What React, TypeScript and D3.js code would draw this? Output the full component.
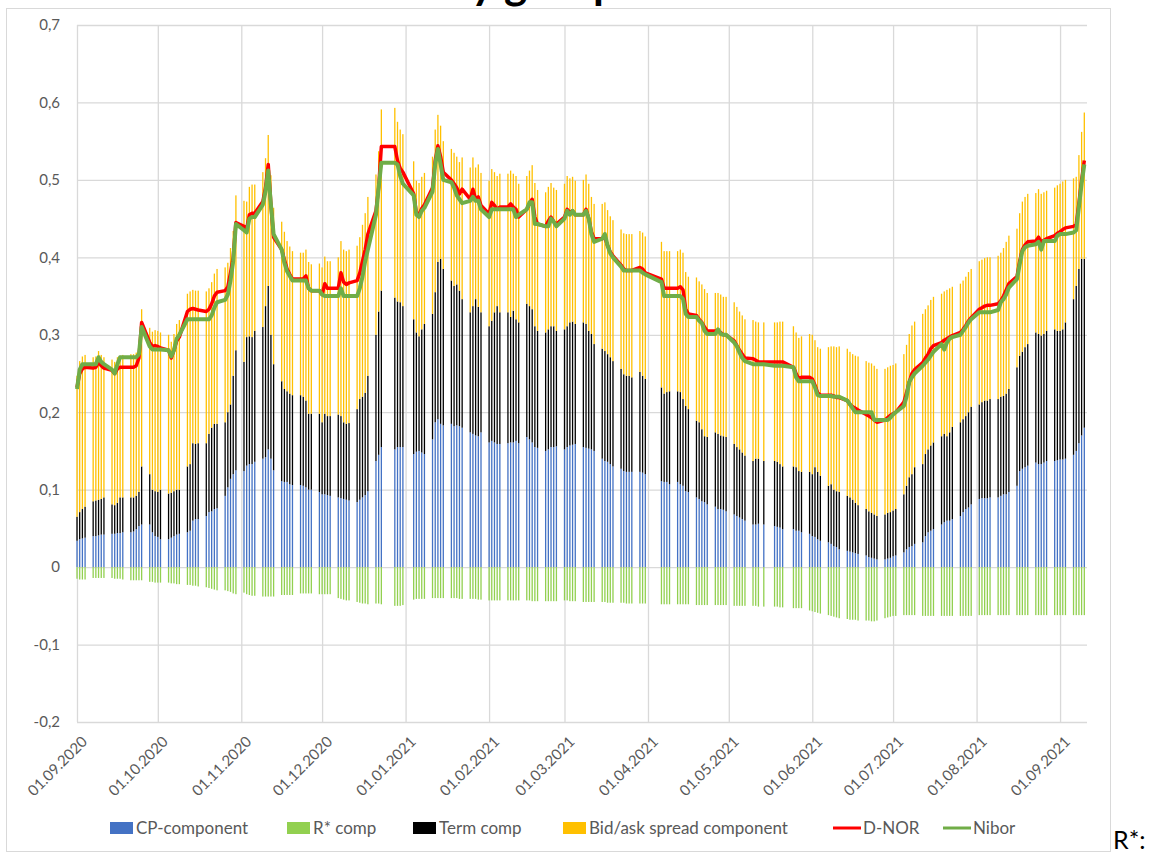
import React, { useEffect, useRef } from 'react';
import * as d3 from 'd3';

// Norwegian bank holidays inside the period (no fixing on these days)
const holidays = ['2020-12-24', '2020-12-25', '2021-01-01', '2021-04-01', '2021-04-02', '2021-04-05', '2021-05-13', '2021-05-17', '2021-05-24'];

const yTicks = [-0.2, -0.1, 0, 0.1, 0.2, 0.3, 0.4, 0.5, 0.6, 0.7];

// one row per week, one value per business day (Sep 2020 -> Sep 2021)
const cpComp = [
  [.034, .036, .037, .038], [.040, .040, .041, .042, .042], [.043, .043, .044, .044, .045], [.045, .046, .049, .053, .055],
  [.055, .045, .040, .039, .036], [.036, .038, .040, .042, .043], [.045, .047, .060, .062, .062], [.066, .071, .072, .075, .076],
  [.092, .103, .114, .120, .125], [.124, .131, .133, .133, .136], [.140, .142, .152, .140, .125], [.111, .110, .110, .107, .106],
  [.106, .105, .103, .100, .100], [.097, .094, .094, .093, .092], [.090, .089, .088, .087, .086], [.084, .087, .090, .093, .098],
  [.137, .145, .155], [.152, .155, .155, .155], [.146, .149, .150, .148, .146], [.165, .187, .191, .185, .183],
  [.185, .182, .183, .182, .180], [.174, .172, .170, .169, .174], [.161, .163, .161, .159, .159], [.160, .161, .161, .163, .160],
  [.168, .165, .161, .155, .154], [.150, .152, .155, .155, .156], [.152, .155, .157, .158, .159], [.155, .154, .153, .152, .150],
  [.140, .137, .136, .133, .130], [.127, .124, .123, .123, .123], [.123, .122, .120], [.111, .110, .110, .107],
  [.110, .107, .105, .098, .097], [.090, .088, .085, .084, .081], [.078, .075, .075, .074, .072], [.068, .066, .064, .062, .060],
  [.055, .055, .056, .055], [.053, .052, .051, .049], [.049, .047, .047, .045], [.043, .040, .039, .036, .034],
  [.032, .030, .027, .026, .023], [.021, .020, .019, .018, .017], [.015, .013, .012, .011, .010], [.010, .011, .012, .014, .015],
  [.019, .023, .026, .027, .030], [.032, .040, .045, .047, .049], [.055, .058, .060, .060, .062], [.066, .071, .075, .077, .081],
  [.088, .089, .089, .089, .090], [.090, .092, .094, .094, .097], [.105, .124, .127, .129, .131], [.135, .133, .133, .135, .137],
  [.137, .138, .139, .139, .140], [.145, .150, .160, .170, .180],
];

const rStarComp = [
  [-.015, -.016, -.016, -.016], [-.014, -.014, -.014, -.014, -.014], [-.014, -.015, -.015, -.015, -.016], [-.017, -.017, -.017, -.017, -.017],
  [-.019, -.019, -.020, -.020, -.020], [-.020, -.021, -.021, -.022, -.022], [-.023, -.023, -.024, -.024, -.025], [-.026, -.027, -.028, -.029, -.030],
  [-.030, -.031, -.032, -.034, -.035], [-.033, -.035, -.036, -.037, -.037], [-.038, -.038, -.038, -.038, -.038], [-.036, -.036, -.036, -.036, -.036],
  [-.034, -.034, -.034, -.034, -.034], [-.035, -.035, -.035, -.035, -.035], [-.040, -.041, -.042, -.043, -.043], [-.045, -.046, -.047, -.047, -.048],
  [-.047, -.047, -.048], [-.050, -.050, -.050, -.049], [-.042, -.041, -.041, -.041, -.041], [-.040, -.040, -.040, -.040, -.040],
  [-.040, -.040, -.040, -.041, -.041], [-.041, -.041, -.041, -.042, -.042], [-.043, -.043, -.043, -.043, -.043], [-.043, -.043, -.043, -.043, -.043],
  [-.043, -.043, -.044, -.044, -.044], [-.044, -.044, -.044, -.044, -.044], [-.043, -.043, -.044, -.044, -.044], [-.045, -.045, -.045, -.045, -.045],
  [-.045, -.045, -.046, -.046, -.046], [-.046, -.046, -.047, -.047, -.047], [-.047, -.047, -.047], [-.048, -.048, -.048, -.048],
  [-.048, -.048, -.048, -.048, -.048], [-.049, -.049, -.049, -.049, -.049], [-.049, -.049, -.049, -.049, -.049], [-.050, -.050, -.050, -.050, -.050],
  [-.050, -.050, -.051, -.051], [-.051, -.051, -.052, -.052], [-.053, -.053, -.053, -.053], [-.056, -.057, -.058, -.059, -.060],
  [-.062, -.063, -.064, -.065, -.066], [-.067, -.068, -.068, -.068, -.069], [-.069, -.069, -.070, -.070, -.069], [-.066, -.065, -.064, -.063, -.063],
  [-.062, -.062, -.062, -.062, -.062], [-.063, -.063, -.063, -.063, -.063], [-.063, -.063, -.063, -.063, -.063], [-.063, -.063, -.063, -.063, -.063],
  [-.062, -.062, -.062, -.062, -.062], [-.062, -.062, -.062, -.062, -.062], [-.062, -.062, -.062, -.062, -.062], [-.062, -.062, -.062, -.062, -.062],
  [-.062, -.062, -.062, -.062, -.062], [-.062, -.062, -.062, -.062, -.062],
];

const termComp = [
  [.031, .035, .038, .040], [.045, .046, .046, .046, .048], [.038, .037, .039, .046, .045], [.045, .044, .043, .044, .075],
  [.065, .055, .058, .058, .064], [.059, .058, .058, .058, .057], [.085, .086, .100, .097, .098], [.094, .101, .108, .110, .109],
  [.095, .097, .096, .127, .155], [.141, .166, .165, .164, .169], [.170, .195, .211, .160, .137], [.129, .120, .117, .117, .116],
  [.116, .115, .112, .098, .098], [.101, .093, .104, .102, .103], [.107, .106, .099, .098, .100], [.120, .130, .130, .132, .149],
  [.163, .185, .202], [.196, .188, .187, .182], [.174, .154, .148, .159, .168], [.162, .168, .203, .213, .202],
  [.185, .181, .182, .175, .166], [.155, .165, .176, .167, .155], [.150, .155, .168, .178, .170], [.169, .162, .170, .157, .156],
  [.172, .172, .172, .156, .151], [.153, .155, .156, .156, .149], [.155, .156, .159, .159, .155], [.161, .160, .152, .149, .138],
  [.142, .142, .139, .138, .136], [.129, .125, .124, .124, .122], [.129, .125, .123], [.121, .114, .116, .120],
  [.117, .119, .112, .110, .107], [.099, .099, .093, .085, .087], [.096, .097, .095, .095, .096], [.091, .089, .088, .086, .084],
  [.082, .085, .084, .082], [.084, .084, .082, .081], [.081, .082, .077, .078], [.080, .080, .090, .087, .084],
  [.073, .077, .073, .072, .074], [.071, .070, .068, .065, .063], [.060, .059, .058, .057, .056], [.058, .059, .059, .059, .060],
  [.075, .082, .090, .093, .099], [.101, .106, .107, .110, .112], [.114, .114, .109, .114, .119], [.121, .120, .120, .123, .126],
  [.122, .124, .126, .126, .127], [.127, .128, .127, .130, .133], [.153, .149, .151, .155, .157], [.168, .168, .166, .166, .168],
  [.170, .167, .166, .168, .176], [.201, .213, .225, .228, .218],
];

const bidAskComp = [
  [.182, .195, .197, .196], [.186, .186, .192, .186, .181], [.187, .185, .188, .183, .184], [.185, .185, .185, .190, .203],
  [.189, .204, .208, .208, .203], [.205, .195, .203, .214, .219], [.223, .223, .198, .198, .197], [.196, .188, .188, .194, .200],
  [.200, .193, .202, .187, .200], [.208, .175, .193, .197, .189], [.200, .191, .195, .206, .202], [.206, .203, .194, .190, .186],
  [.184, .186, .195, .196, .193], [.194, .200, .203, .200, .200], [.203, .226, .223, .223, .224], [.211, .209, .222, .232, .231],
  [.207, .207, .234], [.245, .232, .223, .222], [.204, .196, .198, .197, .195], [.203, .210, .190, .172, .165],
  [.170, .172, .165, .166, .183], [.187, .192, .170, .184, .180], [.188, .196, .181, .168, .179], [.179, .189, .177, .185, .179],
  [.165, .175, .186, .185, .182], [.181, .184, .185, .179, .182], [.188, .194, .186, .187, .185], [.184, .193, .190, .177, .181],
  [.187, .192, .186, .182, .182], [.180, .182, .183, .183, .185], [.182, .185, .184], [.188, .184, .182, .181],
  [.181, .184, .189, .173, .171], [.185, .182, .187, .190, .186], [.180, .182, .182, .180, .181], [.183, .181, .178, .177, .176],
  [.182, .177, .176, .179], [.179, .180, .184, .187], [.181, .174, .172, .175], [.178, .180, .164, .161, .164],
  [.179, .178, .185, .186, .188], [.190, .188, .188, .190, .192], [.191, .192, .193, .192, .190], [.188, .188, .189, .188, .188],
  [.181, .182, .185, .192, .188], [.194, .187, .186, .188, .188], [.184, .184, .189, .186, .181], [.179, .179, .180, .181, .178],
  [.185, .184, .184, .185, .183], [.185, .186, .191, .196, .198], [.179, .184, .194, .194, .194], [.180, .187, .183, .183, .181],
  [.183, .188, .190, .191, .184], [.156, .141, .147, .164, .189],
];

const dNor = [
  [.232, .250, .256, .258], [.257, .258, .265, .260, .257], [.254, .250, .256, .258, .258], [.258, .258, .260, .270, .316],
  [.290, .285, .286, .285, .283], [.280, .270, .280, .292, .297], [.330, .333, .334, .333, .332], [.330, .333, .340, .350, .355],
  [.357, .362, .380, .400, .445], [.440, .437, .455, .457, .457], [.472, .490, .520, .468, .426], [.410, .397, .385, .378, .372],
  [.372, .372, .376, .360, .357], [.357, .352, .366, .360, .360], [.360, .380, .368, .365, .367], [.370, .380, .395, .410, .430],
  [.460, .490, .543], [.543, .525, .515, .510], [.482, .458, .455, .463, .468], [.490, .525, .544, .530, .510],
  [.500, .495, .490, .482, .488], [.475, .488, .475, .478, .467], [.456, .471, .467, .462, .465], [.465, .469, .465, .462, .452],
  [.462, .469, .475, .452, .443], [.440, .447, .452, .446, .443], [.452, .462, .458, .460, .455], [.455, .462, .450, .433, .424],
  [.424, .426, .415, .407, .402], [.390, .385, .383, .383, .383], [.387, .385, .380], [.372, .360, .360, .360],
  [.360, .362, .358, .333, .327], [.325, .320, .316, .310, .305], [.305, .305, .303, .300, .300], [.292, .286, .280, .275, .270],
  [.269, .267, .265, .265], [.265, .265, .265, .265], [.258, .250, .243, .245], [.245, .243, .235, .225, .222],
  [.222, .222, .221, .219, .219], [.215, .210, .207, .205, .203], [.197, .195, .193, .190, .187], [.190, .193, .196, .198, .200],
  [.213, .225, .239, .250, .255], [.264, .270, .275, .282, .286], [.290, .293, .295, .297, .299], [.303, .307, .312, .318, .322],
  [.333, .335, .337, .338, .338], [.340, .344, .350, .358, .366], [.375, .395, .410, .416, .420], [.421, .426, .420, .422, .424],
  [.428, .431, .433, .436, .438], [.440, .442, .470, .500, .525],
];

const nibor = [
  [.230, .255, .262, .262], [.262, .262, .271, .265, .262], [.255, .250, .262, .271, .271], [.271, .271, .271, .275, .310],
  [.285, .281, .281, .281, .281], [.280, .272, .280, .295, .300], [.320, .320, .320, .320, .320], [.320, .320, .325, .335, .342],
  [.345, .352, .370, .395, .443], [.435, .432, .450, .452, .452], [.468, .485, .512, .468, .430], [.410, .393, .382, .376, .370],
  [.370, .370, .370, .360, .357], [.357, .352, .350, .350, .350], [.350, .360, .350, .350, .350], [.350, .360, .375, .395, .410],
  [.455, .490, .522], [.522, .520, .505, .495], [.480, .455, .452, .460, .464], [.485, .520, .540, .520, .500],
  [.497, .490, .480, .475, .470], [.473, .478, .473, .473, .462], [.452, .462, .462, .462, .462], [.462, .462, .462, .452, .455],
  [.462, .471, .471, .443, .443], [.440, .440, .450, .446, .440], [.450, .460, .455, .460, .455], [.455, .460, .450, .430, .420],
  [.424, .430, .415, .405, .400], [.388, .383, .383, .383, .383], [.383, .380, .378], [.368, .350, .350, .350],
  [.350, .350, .346, .327, .323], [.323, .318, .315, .305, .301], [.301, .307, .301, .300, .300], [.290, .285, .277, .270, .266],
  [.262, .262, .262, .262], [.260, .260, .260, .260], [.258, .245, .240, .240], [.240, .240, .232, .222, .221],
  [.221, .221, .220, .220, .220], [.215, .210, .205, .200, .200], [.200, .200, .200, .190, .190], [.190, .190, .193, .197, .200],
  [.208, .220, .239, .245, .250], [.260, .264, .268, .273, .278], [.288, .281, .290, .295, .297], [.300, .305, .310, .316, .320],
  [.329, .329, .329, .329, .329], [.332, .342, .346, .352, .361], [.372, .391, .408, .413, .415], [.417, .420, .410, .421, .421],
  [.421, .428, .430, .430, .430], [.432, .435, .465, .495, .520],
];

const seriesKeys = ['cp', 'term', 'bidAsk', 'rStar'];
const seriesColors: Record<string, string> = { cp: '#4472C4', rStar: '#92D050', term: '#000000', bidAsk: '#FFC000' };

const legendItems = [
  { label: 'CP-component', color: '#4472C4', kind: 'box', x: 110 },
  { label: 'R* comp', color: '#92D050', kind: 'box', x: 287 },
  { label: 'Term comp', color: '#000000', kind: 'box', x: 413 },
  { label: 'Bid/ask spread component', color: '#FFC000', kind: 'box', x: 563 },
  { label: 'D-NOR', color: '#FF0000', kind: 'line', x: 833 },
  { label: 'Nibor', color: '#70AD47', kind: 'line', x: 943 },
];

const DecompositionChart: React.FC = () => {
  const svgRef = useRef<SVGSVGElement>(null);

  useEffect(() => {
    if (!svgRef.current) return;
    const plot = { left: 77, right: 1087, top: 25, bottom: 722 };
    const font = 'Lato, "Open Sans", sans-serif';

    const svg = d3.select(svgRef.current);
    svg.selectAll('*').remove();

    // business days, grouped per week so each data row lines up with its week
    const fmtKey = d3.timeFormat('%Y-%m-%d');
    const off = new Set(holidays);
    const days = d3.timeDay.range(new Date(2020, 8, 1), new Date(2021, 8, 11))
      .filter(d => d.getDay() !== 0 && d.getDay() !== 6 && !off.has(fmtKey(d)));
    const weeks = d3.groups(days, d => +d3.timeMonday.floor(d)).map(g => g[1]);

    const rows: any[] = [];
    weeks.forEach((wk, i) => {
      wk.forEach((date, j) => {
        if (!cpComp[i] || cpComp[i][j] === undefined) return;
        rows.push({
          date,
          cp: cpComp[i][j], rStar: rStarComp[i][j], term: termComp[i][j], bidAsk: bidAskComp[i][j],
          dnor: dNor[i][j], nibor: nibor[i][j],
        });
      });
    });

    const x = d3.scaleTime()
      .domain([new Date(2020, 8, 1), new Date(2021, 8, 11)])
      .range([plot.left, plot.right]);
    const y = d3.scaleLinear().domain([-0.2, 0.7]).range([plot.bottom, plot.top]);

    // chart frame
    svg.append('rect')
      .attr('x', 6.5).attr('y', 8.5).attr('width', 1104).attr('height', 843)
      .attr('fill', 'white').attr('stroke', '#d9d9d9');

    // title: the screenshot crops it, only the descenders peek in at the top edge
    svg.append('text')
      .attr('x', 618).attr('y', -1)
      .attr('text-anchor', 'end')
      .attr('font-family', font).attr('font-weight', 700).attr('font-size', 44)
      .attr('fill', '#000')
      .text('D-NOR breakdown by group');

    // y axis + horizontal gridlines
    const fmtY = (v: number) => (Math.abs(v) < 1e-9 ? '0' : (v < 0 ? '-' : '') + Math.abs(v).toFixed(1).replace('.', ','));
    const yAxis = svg.append('g')
      .attr('transform', `translate(${plot.left},0)`)
      .call(d3.axisLeft(y).tickValues(yTicks).tickSize(-(plot.right - plot.left)).tickPadding(17).tickFormat(d => fmtY(+d)));
    yAxis.select('.domain').remove();
    yAxis.selectAll('.tick line').attr('stroke', '#d9d9d9').attr('stroke-width', 1.3);
    yAxis.selectAll('.tick text')
      .attr('font-family', font).attr('font-size', 15).attr('fill', '#595959');

    // x axis + monthly gridlines
    const monthTicks = d3.timeMonth.range(new Date(2020, 8, 1), new Date(2021, 8, 2));
    const fmtX = d3.timeFormat('%d.%m.%Y');
    const xAxis = svg.append('g')
      .attr('transform', `translate(0,${plot.bottom})`)
      .call(d3.axisBottom(x).tickValues(monthTicks).tickSize(-(plot.bottom - plot.top)).tickFormat(d => fmtX(d as Date)));
    xAxis.select('.domain').remove();
    xAxis.selectAll('.tick line').attr('stroke', '#d9d9d9').attr('stroke-width', 1.3);
    xAxis.selectAll('.tick text')
      .attr('font-family', font).attr('font-size', 15).attr('fill', '#595959')
      .attr('x', 0).attr('y', 0).attr('dy', '0.35em')
      .attr('text-anchor', 'end')
      .attr('transform', 'translate(7,17) rotate(-45)');

    // stacked daily bars (negative R* goes below zero)
    const stack = d3.stack<any>().keys(seriesKeys).offset(d3.stackOffsetDiverging);
    const series = stack(rows);
    const bw = 1.3;

    svg.append('g')
      .selectAll('g')
      .data(series)
      .enter().append('g')
        .attr('fill', d => seriesColors[d.key])
      .selectAll('rect')
      .data(d => d)
      .enter().append('rect')
        .attr('x', d => x(d.data.date) - bw / 2)
        .attr('y', d => y(Math.max(d[0], d[1])))
        .attr('width', bw)
        .attr('height', d => Math.abs(y(d[0]) - y(d[1])));

    // D-NOR and Nibor lines
    const lineFor = (key: string) => d3.line<any>().x(d => x(d.date)).y(d => y(d[key]));
    svg.append('path')
      .datum(rows)
      .attr('fill', 'none').attr('stroke', '#FF0000').attr('stroke-width', 3.5)
      .attr('stroke-linejoin', 'round')
      .attr('d', lineFor('dnor'));
    svg.append('path')
      .datum(rows)
      .attr('fill', 'none').attr('stroke', '#70AD47').attr('stroke-width', 4)
      .attr('stroke-linejoin', 'round')
      .attr('d', lineFor('nibor'));

    // legend
    const legend = svg.append('g')
      .attr('font-family', font).attr('font-size', 17).attr('fill', '#595959')
      .selectAll('g')
      .data(legendItems)
      .enter().append('g')
        .attr('transform', d => `translate(${d.x},828)`);

    legend.filter(d => d.kind === 'box').append('rect')
      .attr('x', 0).attr('y', -6).attr('width', 23).attr('height', 12)
      .attr('fill', d => d.color);
    legend.filter(d => d.kind === 'line').append('line')
      .attr('x1', 0).attr('x2', 28).attr('y1', 0).attr('y2', 0)
      .attr('stroke', d => d.color).attr('stroke-width', 3);
    legend.append('text')
      .attr('x', d => (d.kind === 'box' ? 26 : 30))
      .attr('y', 0).attr('dy', '0.35em')
      .text(d => d.label);

    // stray note outside the chart frame
    svg.append('text')
      .attr('x', 1113).attr('y', 849)
      .attr('font-family', font).attr('font-size', 25).attr('fill', '#000')
      .text('R*:');
  }, []);

  return (
    <svg
      ref={svgRef}
      width={1151}
      height={854}
      style={{ position: 'absolute', left: 0, top: 0, background: '#fff' }}
    />
  );
};

export default function App() {
  return <DecompositionChart />;
}
